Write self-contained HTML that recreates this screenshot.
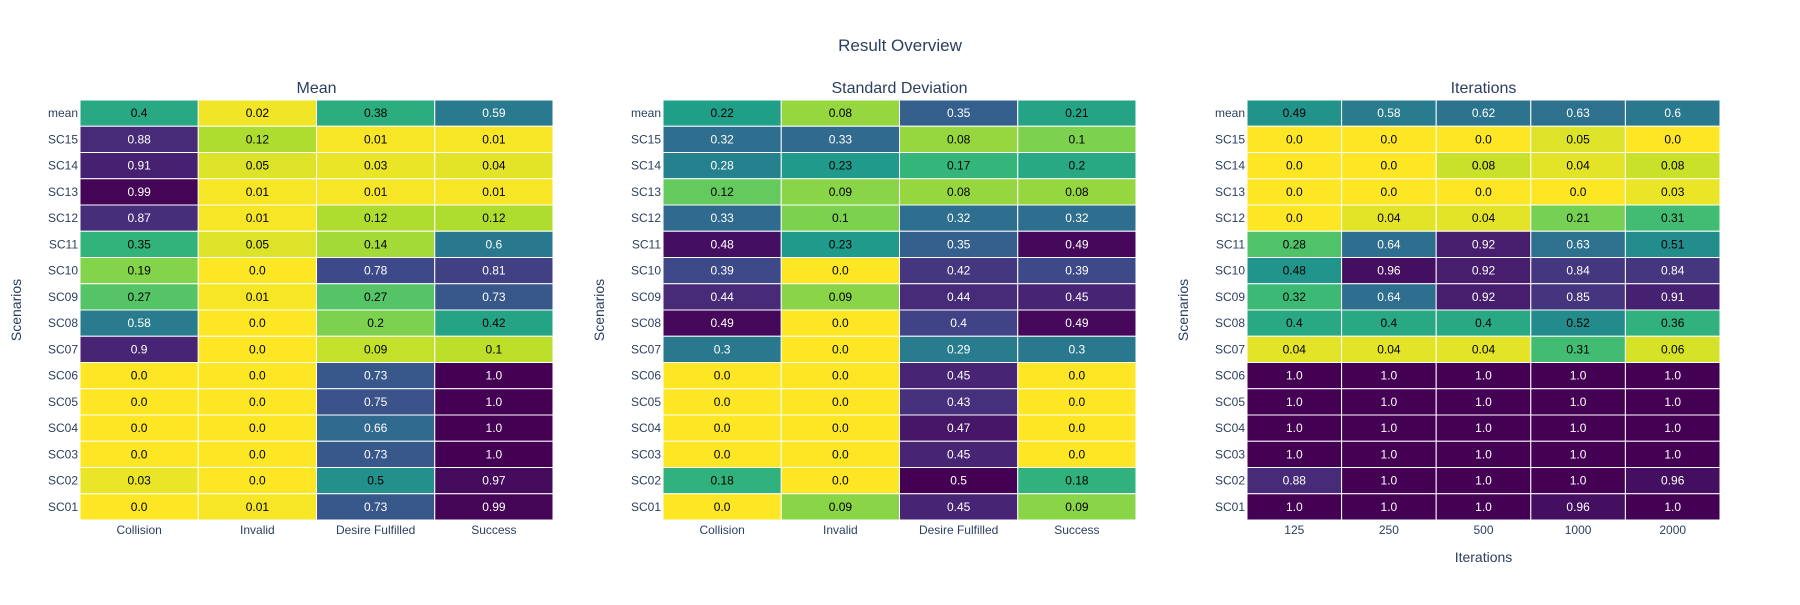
<!DOCTYPE html>
<html><head><meta charset="utf-8"><style>
body{margin:0;background:#fff;font-family:"Liberation Sans",sans-serif}
svg text{font-family:"Liberation Sans",sans-serif}
</style></head><body>
<svg id="chart" width="1800" height="600" xmlns="http://www.w3.org/2000/svg">
<text x="900" y="51" font-size="17" fill="#2a3f5f" text-anchor="middle">Result Overview</text>
</svg>
<script>
const rows = ["mean","SC15","SC14","SC13","SC12","SC11","SC10","SC09","SC08","SC07","SC06","SC05","SC04","SC03","SC02","SC01"];
const metricCols = ["Collision","Invalid","Desire Fulfilled","Success"];
const iterCols = ["125","250","500","1000","2000"];
const meanVals = [[0.4,0.02,0.38,0.59],[0.88,0.12,0.01,0.01],[0.91,0.05,0.03,0.04],[0.99,0.01,0.01,0.01],[0.87,0.01,0.12,0.12],[0.35,0.05,0.14,0.6],[0.19,0.0,0.78,0.81],[0.27,0.01,0.27,0.73],[0.58,0.0,0.2,0.42],[0.9,0.0,0.09,0.1],[0.0,0.0,0.73,1.0],[0.0,0.0,0.75,1.0],[0.0,0.0,0.66,1.0],[0.0,0.0,0.73,1.0],[0.03,0.0,0.5,0.97],[0.0,0.01,0.73,0.99]];
const stdVals = [[0.22,0.08,0.35,0.21],[0.32,0.33,0.08,0.1],[0.28,0.23,0.17,0.2],[0.12,0.09,0.08,0.08],[0.33,0.1,0.32,0.32],[0.48,0.23,0.35,0.49],[0.39,0.0,0.42,0.39],[0.44,0.09,0.44,0.45],[0.49,0.0,0.4,0.49],[0.3,0.0,0.29,0.3],[0.0,0.0,0.45,0.0],[0.0,0.0,0.43,0.0],[0.0,0.0,0.47,0.0],[0.0,0.0,0.45,0.0],[0.18,0.0,0.5,0.18],[0.0,0.09,0.45,0.09]];
const iterVals = [[0.49,0.58,0.62,0.63,0.6],[0.0,0.0,0.0,0.05,0.0],[0.0,0.0,0.08,0.04,0.08],[0.0,0.0,0.0,0.0,0.03],[0.0,0.04,0.04,0.21,0.31],[0.28,0.64,0.92,0.63,0.51],[0.48,0.96,0.92,0.84,0.84],[0.32,0.64,0.92,0.85,0.91],[0.4,0.4,0.4,0.52,0.36],[0.04,0.04,0.04,0.31,0.06],[1.0,1.0,1.0,1.0,1.0],[1.0,1.0,1.0,1.0,1.0],[1.0,1.0,1.0,1.0,1.0],[1.0,1.0,1.0,1.0,1.0],[0.88,1.0,1.0,1.0,0.96],[1.0,1.0,1.0,0.96,1.0]];

const NS="http://www.w3.org/2000/svg";
const svg=document.getElementById('chart');
const vir=[[68,1,84],[72,40,120],[62,74,137],[49,104,142],[38,130,142],[31,158,137],[53,183,121],[110,206,88],[181,222,43],[253,231,37]];
function viridis(t){t=Math.max(0,Math.min(1,t));const p=t*(vir.length-1),i=Math.min(vir.length-2,Math.floor(p)),f=p-i;
 const c=vir[i].map((v,k)=>Math.round(v+(vir[i+1][k]-v)*f));return c;}
function mk(tag,attrs,parent){const e=document.createElementNS(NS,tag);for(const k in attrs)e.setAttribute(k,attrs[k]);(parent||svg).appendChild(e);return e;}
function heat(name,title,vals,cols,x0,x1,xtitle){
 const y0=100,y1=520;
 const g=mk('g',{});
 
 
 let mn=Infinity,mx=-Infinity;vals.forEach(r=>r.forEach(v=>{mn=Math.min(mn,v);mx=Math.max(mx,v);}));
 const cw=(x1-x0)/cols.length,rh=(y1-y0)/rows.length;
 const xs=j=>x0+j*cw, ys=i=>y0+i*rh;
 const t=mk('text',{x:(x0+x1)/2,y:93,'font-size':16,fill:'#2a3f5f','text-anchor':'middle'},g);t.textContent=title;
 
 
 vals.forEach((r,i)=>r.forEach((v,j)=>{
  const f=1-(v-mn)/(mx-mn);const c=viridis(f);
  const rc=mk('rect',{x:xs(j),y:ys(i),width:cw,height:rh,fill:`rgb(${c})`,stroke:'#fff','stroke-width':1},g);
  
  
  const lum=0.299*c[0]+0.587*c[1]+0.114*c[2];
  const tx=mk('text',{x:xs(j)+cw/2,y:ys(i)+rh/2+4,'font-size':12,'text-anchor':'middle',fill:lum<105?'#fff':'#000'},g);
  tx.textContent=Number.isInteger(v)?v.toFixed(1):String(v);
  
  
 }));
 rows.forEach((r,i)=>{const l=mk('text',{x:x0-2,y:ys(i)+rh/2+4,'font-size':12,fill:'#2a3f5f','text-anchor':'end'},g);l.textContent=r;
  
  });
 cols.forEach((c,j)=>{const l=mk('text',{x:xs(j)+cw/2,y:534,'font-size':12,fill:'#2a3f5f','text-anchor':'middle'},g);l.textContent=c;
  
  });
 const yt=mk('text',{x:0,y:0,'font-size':14,fill:'#2a3f5f','text-anchor':'middle',transform:`translate(${x0-59},310) rotate(-90)`},g);yt.textContent='Scenarios';
 
 
 if(xtitle){const xt=mk('text',{x:(x0+x1)/2,y:562,'font-size':14,fill:'#2a3f5f','text-anchor':'middle'},g);xt.textContent=xtitle;
  
  }
}
heat('mean','Mean',meanVals,metricCols,80,553);
heat('std','Standard Deviation',stdVals,metricCols,663,1136);
heat('iterations','Iterations',iterVals,iterCols,1247,1720,'Iterations');
</script>
</body></html>
